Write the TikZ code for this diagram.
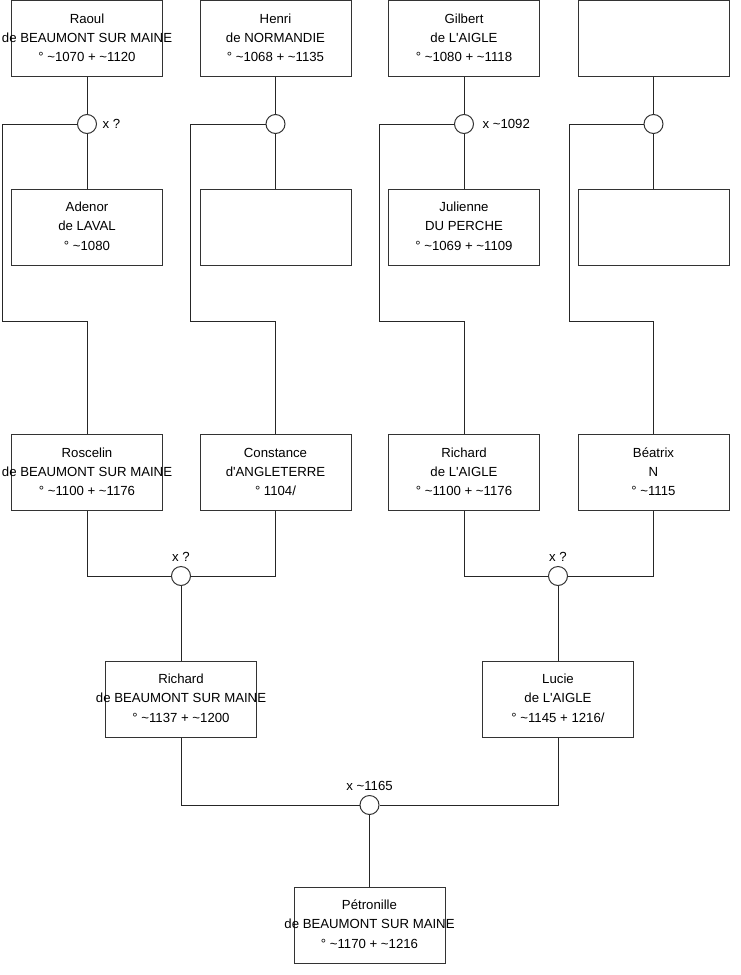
\documentclass[tikz,border=0pt]{standalone}
\usepackage{fontspec}
\setmainfont{Liberation Sans}
\usepackage{tikz}

\newcommand{\vers}{\textasciitilde}
\newcommand{\apos}{\textquotesingle}
\newcommand{\fiche}[3]{\makebox[0pt]{\begin{tabular}{@{}c@{}}#1\\#2\\#3\end{tabular}}}

\begin{document}
\begin{tikzpicture}[
    x=1pt,y=-1pt,
    font=\fontsize{13.2}{19.3}\selectfont,
    lien/.style={draw=black!85,line width=1pt},
    personne/.style={draw=black!80,line width=1pt,minimum width=151pt,minimum height=76pt,inner sep=0pt},
    union/.style={circle,draw=black!80,line width=1pt,fill=white,minimum size=19pt,inner sep=0pt}
]
\useasboundingbox (0,0) rectangle (740,975);

% First generation.
\node[personne] (raoul) at (87,38.5) {\fiche{Raoul}{de BEAUMONT SUR MAINE}{° \vers1070 + \vers1120}};
\node[personne] (henri) at (275.5,38.5) {\fiche{Henri}{de NORMANDIE}{° \vers1068 + \vers1135}};
\node[personne] (gilbert) at (464,38.5) {\fiche{Gilbert}{de L\apos AIGLE}{° \vers1080 + \vers1118}};
\node[personne] (inconnuA) at (653.5,38.5) {};

\node[personne] (adenor) at (87,227) {\fiche{Adenor}{de LAVAL}{° \vers1080}};
\node[personne] (inconnuB) at (275.5,227) {};
\node[personne] (julienne) at (464,227) {\fiche{Julienne}{DU PERCHE}{° \vers1069 + \vers1109}};
\node[personne] (inconnuC) at (653.5,227) {};

% Marriages of the first generation.
\node[union,label={[label distance=2pt]right:x ?}] (mA) at (87,124) {};
\node[union] (mB) at (275.5,124) {};
\node[union,label={[label distance=5pt]right:x \vers1092}] (mC) at (464,124) {};
\node[union] (mD) at (653.5,124) {};

% Second generation.
\node[personne] (roscelin) at (87,472.5) {\fiche{Roscelin}{de BEAUMONT SUR MAINE}{° \vers1100 + \vers1176}};
\node[personne] (constance) at (275.5,472.5) {\fiche{Constance}{d\apos ANGLETERRE}{° 1104/}};
\node[personne] (richardA) at (464,472.5) {\fiche{Richard}{de L\apos AIGLE}{° \vers1100 + \vers1176}};
\node[personne] (beatrix) at (653.5,472.5) {\fiche{Béatrix}{N}{° \vers1115}};

\node[union,label={[label distance=1pt]above:x ?}] (mE) at (181,576) {};
\node[union,label={[label distance=1pt]above:x ?}] (mF) at (558,576) {};

% Third generation.
\node[personne] (richardB) at (181,699) {\fiche{Richard}{de BEAUMONT SUR MAINE}{° \vers1137 + \vers1200}};
\node[personne] (lucie) at (558,699) {\fiche{Lucie}{de L\apos AIGLE}{° \vers1145 + 1216/}};

\node[union,label={[label distance=1pt]above:x \vers1165}] (mG) at (369.5,805) {};

\node[personne] (petronille) at (369.5,925) {\fiche{Pétronille}{de BEAUMONT SUR MAINE}{° \vers1170 + \vers1216}};

% Elbows of the lines down to the children.
\coordinate (gA) at (2,124);
\coordinate (hA) at (2,321);
\coordinate (gB) at (190,124);
\coordinate (hB) at (190,321);
\coordinate (gC) at (379,124);
\coordinate (hC) at (379,321);
\coordinate (gD) at (569,124);
\coordinate (hD) at (569,321);

% Links.
\foreach \pere/\m/\mere in {raoul/mA/adenor,henri/mB/inconnuB,gilbert/mC/julienne,inconnuA/mD/inconnuC}{
    \draw[lien] (\pere) -- (\m) -- (\mere);
}
\draw[lien] (mA.west) -- (gA) -- (hA) -| (roscelin.north);
\draw[lien] (mB.west) -- (gB) -- (hB) -| (constance.north);
\draw[lien] (mC.west) -- (gC) -- (hC) -| (richardA.north);
\draw[lien] (mD.west) -- (gD) -- (hD) -| (beatrix.north);

\draw[lien] (roscelin.south) |- (mE.west);
\draw[lien] (constance.south) |- (mE.east);
\draw[lien] (mE) -- (richardB);
\draw[lien] (richardA.south) |- (mF.west);
\draw[lien] (beatrix.south) |- (mF.east);
\draw[lien] (mF) -- (lucie);

\draw[lien] (richardB.south) |- (mG.west);
\draw[lien] (lucie.south) |- (mG.east);
\draw[lien] (mG) -- (petronille);
\end{tikzpicture}
\end{document}
